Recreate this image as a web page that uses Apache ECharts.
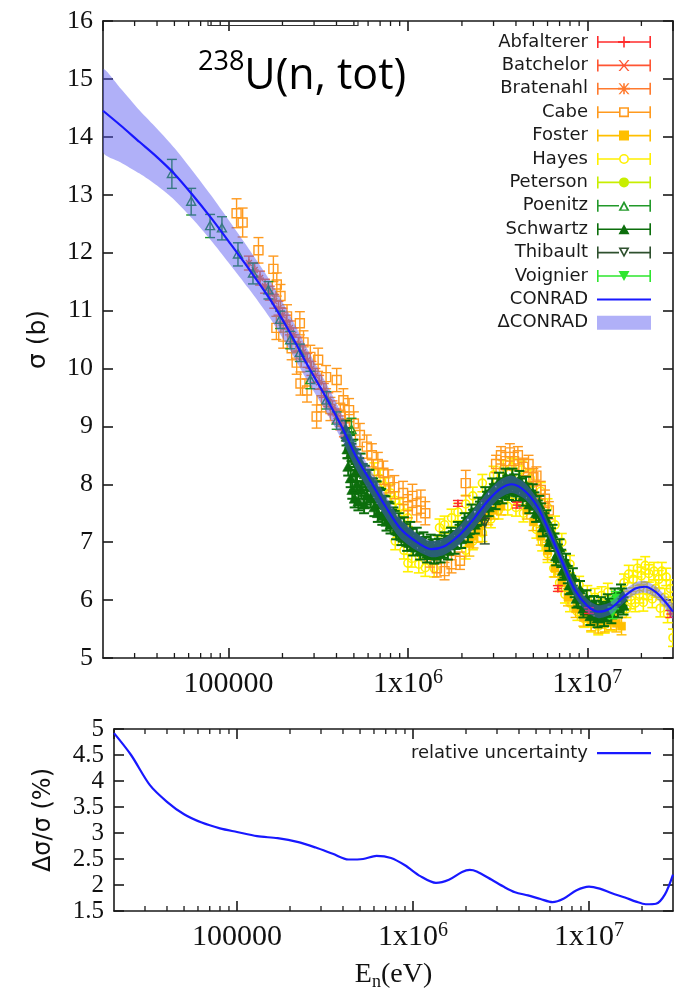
<!DOCTYPE html>
<html><head><meta charset="utf-8">
<script src="https://cdn.jsdelivr.net/npm/echarts@6/dist/echarts.min.js"></script>
<style>html,body{margin:0;padding:0;background:#fff}#c{width:683px;height:990px}</style>
</head><body><div id="c"></div>
<script>
// ================= DATA =================
const E_GRID = [2.0e4, 2.5e4, 3.2e4, 4.0e4, 5.0e4, 6.3e4, 8.0e4, 1.0e5, 1.3e5, 1.7e5, 2.2e5, 2.8e5, 3.5e5, 4.3e5, 5.2e5, 6.2e5, 7.5e5, 9.0e5, 1.1e6, 1.35e6, 1.6e6, 1.9e6, 2.1e6, 2.3e6, 2.8e6, 3.3e6, 3.8e6, 4.5e6, 5.3e6, 6.2e6, 7.2e6, 8.5e6, 1.0e7, 1.15e7, 1.35e7, 1.6e7, 1.85e7, 2.1e7, 2.4e7, 2.7e7, 3.0e7];
const CONRAD = [14.45, 14.2, 13.91, 13.65, 13.36, 13.0, 12.6, 12.2, 11.72, 11.2, 10.62, 10.02, 9.5, 8.98, 8.45, 8.05, 7.62, 7.25, 7.02, 6.88, 6.93, 7.1, 7.24, 7.38, 7.72, 7.93, 8.0, 7.88, 7.6, 7.15, 6.68, 6.18, 5.9, 5.8, 5.86, 6.06, 6.2, 6.23, 6.14, 5.98, 5.8];
const REL_UNC = [4.92, 4.5, 3.92, 3.6, 3.36, 3.2, 3.09, 3.02, 2.94, 2.9, 2.83, 2.72, 2.6, 2.49, 2.5, 2.56, 2.52, 2.38, 2.17, 2.04, 2.1, 2.25, 2.29, 2.26, 2.1, 1.96, 1.86, 1.8, 1.73, 1.67, 1.74, 1.9, 1.97, 1.93, 1.84, 1.76, 1.68, 1.63, 1.64, 1.82, 2.2];

// experimental points: [E (eV), sigma (b), error (b)]
const ABFALTERER = [[1.9e6,7.67,0.05],[4.05e6,7.64,0.05],[6.85e6,6.2,0.05],[1.02e7,5.82,0.05],[2.9e7,5.76,0.06]];
const BATCHELOR = [[2.05e6,7.2,0.08],[3.1e6,7.85,0.08],[4.2e6,7.95,0.08],[1.41e7,5.92,0.08]];
const BRATENAHL = [[1.3e5,11.82,0.12],[1.4e5,11.7,0.12],[1.5e5,11.56,0.12],[1.6e5,11.42,0.12],[1.7e5,11.3,0.12],[1.8e5,11.16,0.12],[1.9e5,11.04,0.12],[2.0e5,10.92,0.12],[2.1e5,10.8,0.12],[2.2e5,10.7,0.12],[2.3e5,10.58,0.12],[2.45e5,10.42,0.12],[2.6e5,10.28,0.12],[2.75e5,10.14,0.12],[2.9e5,10.0,0.12],[3.05e5,9.88,0.12],[3.2e5,9.76,0.12],[3.4e5,9.62,0.12],[3.6e5,9.46,0.12],[3.8e5,9.32,0.12],[4.0e5,9.18,0.12],[4.2e5,9.06,0.12],[4.4e5,8.94,0.12]];
const CABE = [[1.11e5,12.68,0.25],[1.2e5,12.52,0.25],[1.47e5,12.04,0.22],[1.78e5,11.72,0.22],[1.86e5,11.45,0.2],[1.95e5,11.25,0.2],[1.85e5,10.7,0.2],[2.02e5,10.55,0.2],[2.12e5,10.9,0.2],[2.25e5,10.35,0.2],[2.4e5,10.1,0.2],[2.5e5,10.78,0.2],[2.52e5,9.74,0.2],[2.62e5,10.45,0.2],[2.74e5,9.62,0.2],[2.86e5,10.2,0.2],[3.1e5,9.17,0.2],[3.16e5,10.15,0.2],[3.3e5,9.45,0.2],[3.5e5,9.85,0.2],[3.7e5,9.3,0.2],[4.01e5,9.8,0.2],[4.2e5,9.2,0.2],[4.37e5,9.45,0.2],[4.48e5,9.05,0.2],[4.7e5,9.28,0.2],[5.0e5,9.05,0.2],[5.4e5,8.85,0.2],[5.9e5,8.65,0.2],[6.3e5,8.5,0.2],[6.8e5,8.35,0.2],[7.3e5,8.2,0.2],[7.8e5,8.05,0.2],[8.4e5,7.95,0.2],[9.4e5,7.85,0.2],[1.0e6,7.62,0.2],[1.06e6,7.8,0.2],[1.12e6,7.55,0.2],[1.18e6,7.7,0.2],[1.25e6,7.5,0.2],[1.33e6,6.72,0.15],[1.45e6,6.55,0.15],[1.6e6,6.5,0.15],[1.75e6,6.62,0.15],[1.95e6,6.68,0.15],[2.1e6,8.02,0.22],[3.1e6,8.35,0.15],[3.3e6,8.5,0.15],[3.5e6,8.4,0.15],[3.7e6,8.55,0.15],[3.9e6,8.4,0.15],[4.1e6,8.5,0.15],[4.4e6,8.3,0.15],[4.7e6,8.35,0.15],[5.0e6,8.12,0.15],[5.2e6,8.15,0.15],[5.5e6,7.9,0.15],[5.8e6,7.75,0.15],[6.1e6,7.55,0.15]];
const FOSTER = [[2.2e6,6.98,0.22],[2.32e6,7.1,0.2],[2.45e6,7.2,0.2],[2.6e6,7.32,0.2],[2.8e6,7.45,0.15],[3.0e6,7.55,0.15],[3.3e6,7.62,0.15],[4.6e6,7.55,0.15],[5.0e6,7.35,0.15],[5.5e6,7.1,0.15],[6.0e6,6.85,0.15],[6.6e6,6.55,0.15],[7.2e6,6.3,0.15],[7.8e6,6.05,0.15],[8.6e6,5.85,0.15],[9.5e6,5.7,0.15],[1.05e7,5.62,0.15],[1.15e7,5.58,0.15],[1.25e7,5.6,0.15],[1.35e7,5.64,0.15],[1.45e7,5.6,0.15],[1.55e7,5.55,0.15]];
const HAYES = [[6.5e5,8.22,0.15],[7.0e5,8.1,0.15],[7.5e5,7.96,0.15],[8.0e5,7.85,0.15],[8.5e5,7.72,0.15],[9.0e5,7.6,0.15],[9.5e5,7.5,0.15],[1.0e6,7.42,0.15],
  [8.5e5,7.02,0.15],[9.5e5,6.86,0.15],[1.05e6,6.72,0.15],[1.15e6,6.62,0.15],[1.25e6,6.56,0.15],[1.4e6,6.55,0.15],[1.0e6,6.64,0.15],
  [1.5e6,7.25,0.15],[1.6e6,7.3,0.15],[1.75e6,7.42,0.15],[1.9e6,7.52,0.15],[2.1e6,7.66,0.15],[2.3e6,7.8,0.15],
  [2.1e6,6.86,0.15],[2.3e6,7.02,0.15],[2.6e6,7.16,0.15],[2.9e6,7.4,0.15],[3.2e6,7.55,0.15],[3.6e6,7.62,0.15],[4.0e6,7.6,0.15],[4.4e6,7.5,0.15],
  [2.6e6,8.02,0.15],[3.0e6,8.16,0.15],[3.4e6,8.26,0.15],[3.8e6,8.3,0.15],[4.3e6,8.25,0.15],[4.8e6,8.1,0.15],
  [5.2e6,7.22,0.15],[5.6e6,7.0,0.15],[6.0e6,6.8,0.15],[6.5e6,6.55,0.15],[7.0e6,6.3,0.15],[7.5e6,6.1,0.15],[8.0e6,5.95,0.15],[8.8e6,5.8,0.15],[9.6e6,5.68,0.15],[1.05e7,5.6,0.15],[1.15e7,5.55,0.15],[1.25e7,5.58,0.15],[1.35e7,5.62,0.15],
  [5.5e6,7.88,0.15],[6.0e6,7.6,0.15],[6.6e6,7.3,0.15],[7.2e6,7.0,0.15],[8.0e6,6.62,0.15],[9.0e6,6.26,0.15],[1.0e7,6.1,0.15],[1.1e7,6.05,0.15],[1.2e7,6.08,0.15],[1.3e7,6.14,0.15],
  [1.6e7,6.3,0.15],[1.65e7,5.85,0.15],[1.7e7,6.45,0.15],[1.75e7,6.0,0.15],[1.8e7,6.36,0.15],[1.85e7,5.95,0.15],[1.9e7,6.55,0.15],[1.95e7,6.1,0.15],[2.0e7,6.42,0.15],[2.05e7,5.96,0.15],[2.1e7,6.6,0.15],[2.15e7,6.16,0.15],[2.2e7,6.46,0.15],[2.3e7,6.02,0.15],[2.35e7,6.5,0.15],[2.4e7,6.2,0.15],[2.5e7,6.36,0.15],[2.55e7,5.86,0.15],[2.6e7,6.5,0.15],[2.7e7,6.05,0.15],[2.75e7,6.4,0.15],[2.8e7,5.76,0.15],[2.9e7,6.2,0.15],[2.95e7,5.9,0.15],[3.0e7,5.35,0.15]];
const PETERSON = [[1.42e7,6.0,0.1],[1.45e7,5.92,0.1]];
const POENITZ = [[4.84e4,13.36,0.25],[6.2e4,12.88,0.23],[7.9e4,12.46,0.2],[9.2e4,12.42,0.2],[1.13e5,11.97,0.2],[1.37e5,11.64,0.18],[1.67e5,11.35,0.15],[1.94e5,10.84,0.15],[2.21e5,10.49,0.15],[2.5e5,10.27,0.15],[2.86e5,9.8,0.15],[3.52e5,9.45,0.15],[4.01e5,9.1,0.15],[4.85e5,8.94,0.2]];
const SCHWARTZ = [[4.5e5,8.95,0.15],[4.6e5,8.6,0.15],[4.65e5,8.3,0.15],[4.7e5,8.75,0.15],[4.8e5,8.1,0.15],[4.85e5,8.55,0.15],[4.9e5,7.9,0.15],[5.0e5,8.45,0.15],[5.05e5,7.75,0.15],[5.1e5,8.2,0.15],[5.2e5,8.0,0.15],[5.3e5,7.7,0.15],[5.35e5,8.3,0.15],[5.5e5,7.9,0.15],[5.6e5,8.2,0.15],[5.7e5,7.65,0.15],[5.8e5,8.05,0.15],[5.9e5,7.8,0.15],[6.0e5,8.1,0.15],[6.2e5,7.75,0.15],[6.3e5,7.95,0.15],[6.5e5,7.6,0.15],[6.6e5,7.9,0.15],[6.8e5,7.5,0.15],[7.0e5,7.75,0.15],[7.2e5,7.45,0.15],[7.4e5,7.65,0.15],[7.6e5,7.35,0.15],[7.8e5,7.55,0.15],[8.0e5,7.3,0.15],[8.3e5,7.45,0.15],[8.6e5,7.2,0.15],[8.9e5,7.35,0.15],[9.2e5,7.1,0.15],[9.5e5,7.28,0.15],[9.9e5,7.0,0.15],[1.03e6,7.2,0.15],[1.07e6,6.92,0.15],[1.12e6,7.1,0.15],[1.17e6,6.85,0.15],[1.22e6,7.02,0.15],[1.28e6,6.8,0.15],[1.34e6,6.98,0.15],[1.4e6,6.78,0.15],[1.46e6,6.97,0.15],[1.52e6,6.8,0.15],[1.6e6,7.02,0.15],[1.67e6,6.85,0.15],[1.74e6,7.1,0.15],[1.82e6,6.95,0.15],[1.9e6,7.2,0.15],[1.98e6,7.05,0.15],[2.07e6,7.35,0.15],[2.16e6,7.15,0.15],[2.26e6,7.5,0.15],[2.36e6,7.3,0.15],[2.47e6,7.62,0.15],[2.58e6,7.45,0.15],[2.7e6,7.8,0.15],[2.82e6,7.6,0.15],[2.95e6,7.95,0.15],[3.08e6,7.72,0.15],[3.22e6,8.05,0.15],[3.36e6,7.82,0.15],[3.5e6,8.12,0.15],[3.66e6,7.88,0.15],[3.82e6,8.12,0.15],[4.0e6,7.86,0.15],[4.18e6,8.08,0.15],[4.36e6,7.78,0.15],[4.55e6,7.98,0.15],[4.75e6,7.65,0.15],[4.96e6,7.85,0.15],[5.18e6,7.5,0.15],[5.4e6,7.65,0.15],[5.65e6,7.25,0.15],[5.9e6,7.4,0.15],[6.15e6,7.0,0.15],[6.4e6,7.15,0.15],[6.7e6,6.75,0.15],[7.0e6,6.9,0.15],[7.3e6,6.5,0.15],[7.6e6,6.65,0.15],[7.95e6,6.25,0.15],[8.3e6,6.4,0.15],[8.7e6,6.02,0.15],[9.1e6,6.18,0.15],[9.5e6,5.85,0.15],[9.9e6,6.02,0.15],[1.04e7,5.72,0.15],[1.09e7,5.92,0.15],[1.14e7,5.68,0.15],[1.19e7,5.9,0.15],[1.24e7,5.7,0.15],[1.3e7,5.95,0.15],[1.36e7,5.75,0.15],[1.42e7,6.05,0.15],[1.48e7,5.85,0.15],[1.54e7,6.12,0.15],[1.59e7,5.9,0.15],
  [4.55e5,8.82,0.15],[4.75e5,8.7,0.15],[4.95e5,8.62,0.15],[5.15e5,8.45,0.15],[5.45e5,8.38,0.15],[5.75e5,8.17,0.15],[6.1e5,8.1,0.15],[6.4e5,7.95,0.15],[6.7e5,7.9,0.15],[6.9e5,7.79,0.15],[7.1e5,7.77,0.15],[7.3e5,7.65,0.15],[7.5e5,7.64,0.15],[7.7e5,7.53,0.15],[7.9e5,7.52,0.15],[8.15e5,7.41,0.15],[8.45e5,7.39,0.15],[8.75e5,7.27,0.15],[9.05e5,7.26,0.15],[9.35e5,7.16,0.15],[9.7e5,7.16,0.15],[1.01e6,7.07,0.15],[1.05e6,7.08,0.15],[1.1e6,6.99,0.15],[1.15e6,7.0,0.15],[1.2e6,6.92,0.15],[1.25e6,6.94,0.15],[1.31e6,6.86,0.15],[1.37e6,6.9,0.15],[1.43e6,6.85,0.15],[1.49e6,6.91,0.15],[1.56e6,6.88,0.15],[1.63e6,6.96,0.15],[1.7e6,6.94,0.15],[1.78e6,7.04,0.15],[1.86e6,7.04,0.15],[1.94e6,7.15,0.15],[2.02e6,7.16,0.15],[2.11e6,7.27,0.15],[2.21e6,7.29,0.15],[2.31e6,7.41,0.15],[2.42e6,7.43,0.15],[2.52e6,7.55,0.15],[2.64e6,7.59,0.15],[2.76e6,7.72,0.15],[2.88e6,7.74,0.15],[3.02e6,7.85,0.15],[3.15e6,7.86,0.15],[3.29e6,7.95,0.15],[3.43e6,7.93,0.15],[3.58e6,8.0,0.15],[3.74e6,7.97,0.15],[3.91e6,8.02,0.15],[4.09e6,7.94,0.15],[4.27e6,7.95,0.15],[4.45e6,7.86,0.15],[4.65e6,7.86,0.15],[4.86e6,7.74,0.15],[5.07e6,7.71,0.15],[5.29e6,7.57,0.15],[5.52e6,7.52,0.15],[5.77e6,7.35,0.15],[6.02e6,7.27,0.15],[6.27e6,7.09,0.15],[6.55e6,7.0,0.15],[6.85e6,6.81,0.15],[7.15e6,6.72,0.15],[7.45e6,6.54,0.15],[7.78e6,6.44,0.15],[8.12e6,6.27,0.15],[8.5e6,6.2,0.15],[8.9e6,6.04,0.15],[9.3e6,6.01,0.15],[9.7e6,5.9,0.15],[1.01e7,5.91,0.15],[1.065e7,5.82,0.15],[1.115e7,5.84,0.15],[1.165e7,5.77,0.15],[1.215e7,5.82,0.15],[1.27e7,5.79,0.15],[1.33e7,5.87,0.15],[1.39e7,5.86,0.15],[1.45e7,5.96,0.15],[1.51e7,5.97,0.15],[1.565e7,6.05,0.15]];
const THIBAULT = [[2.68e6,7.35,0.38]];
const VOIGNIER = [[1.38e7,5.78,0.1],[1.41e7,5.95,0.1],[1.44e7,6.05,0.1]];

const LEGEND_NAMES = ['Abfalterer','Batchelor','Bratenahl','Cabe','Foster','Hayes','Peterson','Poenitz','Schwartz','Thibault','Voignier','CONRAD','\u0394CONRAD'];
const X_MINOR_TICKS = [3e4,4e4,5e4,6e4,7e4,8e4,9e4,2e5,3e5,4e5,5e5,6e5,7e5,8e5,9e5,2e6,3e6,4e6,5e6,6e6,7e6,8e6,9e6,2e7];
const X_RANGE = [2e4, 3e7];
const Y_TOP = [5, 16];
const Y_BOT = [1.5, 5];

// ================= STYLE =================
const DATASETS = {Abfalterer:ABFALTERER, Batchelor:BATCHELOR, Bratenahl:BRATENAHL, Cabe:CABE, Foster:FOSTER, Hayes:HAYES, Peterson:PETERSON, Poenitz:POENITZ, Schwartz:SCHWARTZ, Thibault:THIBAULT, Voignier:VOIGNIER};
const STYLE = {
  Abfalterer:{color:'#ff2d2d', shape:'plus', r:4, lw:1.4},
  Batchelor:{color:'#ff5533', shape:'cross', r:4, lw:1.4},
  Bratenahl:{color:'#ff7a2e', shape:'star', r:4, lw:1.4},
  Cabe:{color:'#ff9a1e', shape:'osquare', r:4.5, lw:1.4},
  Foster:{color:'#ffbf00', shape:'square', r:4, lw:1.4},
  Hayes:{color:'#fff000', shape:'ocircle', r:4, lw:1.6},
  Peterson:{color:'#c8ee00', shape:'circle', r:4, lw:1.4},
  Poenitz:{color:'#22992a', shape:'otri', r:4.5, lw:1.4},
  Schwartz:{color:'#0c6e0c', shape:'tri', r:5.5, lw:2},
  Thibault:{color:'#2e502e', shape:'otridown', r:4.5, lw:1.4},
  Voignier:{color:'#2ee62e', shape:'tridown', r:4, lw:1.4}
};
const DRAW_ORDER = ['Hayes','Foster','Cabe','Bratenahl','Batchelor','Peterson','Schwartz','Poenitz','Voignier','Thibault','Abfalterer'];
const BLUE = '#1818ff';
const BAND = 'rgba(80,80,240,0.45)';
const AX = '#1a1a1a';
const SERIF = "'Liberation Serif','Times New Roman',serif";
const SANS = "'DejaVu Sans',sans-serif";

function markerEl(shape, x, y, r, col, lw) {
  const S = {stroke: col, lineWidth: lw, fill: 'none'};
  const F = {fill: col, stroke: col, lineWidth: 0.6};
  const L = (x1,y1,x2,y2) => ({type:'line', shape:{x1,y1,x2,y2}, style:S});
  switch (shape) {
    case 'plus': return {type:'group', children:[L(x-r,y,x+r,y), L(x,y-r,x,y+r)]};
    case 'cross': return {type:'group', children:[L(x-r,y-r,x+r,y+r), L(x-r,y+r,x+r,y-r)]};
    case 'star': return {type:'group', children:[L(x-r,y,x+r,y), L(x,y-r,x,y+r), L(x-r*0.75,y-r*0.75,x+r*0.75,y+r*0.75), L(x-r*0.75,y+r*0.75,x+r*0.75,y-r*0.75)]};
    case 'osquare': return {type:'rect', shape:{x:x-r,y:y-r,width:2*r,height:2*r}, style:S};
    case 'square': return {type:'rect', shape:{x:x-r,y:y-r,width:2*r,height:2*r}, style:F};
    case 'ocircle': return {type:'circle', shape:{cx:x,cy:y,r:r}, style:S};
    case 'circle': return {type:'circle', shape:{cx:x,cy:y,r:r}, style:F};
    case 'otri': return {type:'polygon', shape:{points:[[x,y-r],[x+r,y+0.8*r],[x-r,y+0.8*r]]}, style:S};
    case 'tri': return {type:'polygon', shape:{points:[[x,y-r],[x+r,y+0.8*r],[x-r,y+0.8*r]]}, style:F};
    case 'otridown': return {type:'polygon', shape:{points:[[x,y+r],[x+r,y-0.8*r],[x-r,y-0.8*r]]}, style:S};
    default: return {type:'polygon', shape:{points:[[x,y+r],[x+r,y-0.8*r],[x-r,y-0.8*r]]}, style:F};
  }
}
function errRender(shape, r, lw) {
  return function (params, api) {
    const E = api.value(0), s = api.value(1), e = api.value(2);
    const c = api.coord([E, s]);
    const lo = api.coord([E, s - e]);
    const hi = api.coord([E, s + e]);
    const col = api.visual('color');
    const st = {stroke: col, lineWidth: lw, fill: 'none'};
    const cw = 5;
    return {type:'group', children:[
      {type:'line', shape:{x1:c[0], y1:lo[1], x2:c[0], y2:hi[1]}, style:st},
      {type:'line', shape:{x1:c[0]-cw, y1:lo[1], x2:c[0]+cw, y2:lo[1]}, style:st},
      {type:'line', shape:{x1:c[0]-cw, y1:hi[1], x2:c[0]+cw, y2:hi[1]}, style:st},
      markerEl(shape, c[0], c[1], r, col, lw)
    ]};
  };
}
function legendIcon(shape) {
  const R = (x0,y0,x1,y1) => `M${x0},${y0} L${x1},${y0} L${x1},${y1} L${x0},${y1} Z`;
  const Rr = (x0,y0,x1,y1) => `M${x0},${y0} L${x0},${y1} L${x1},${y1} L${x1},${y0} Z`;
  let p = 'M0,0 L0.02,0 L0,0.02 Z M54,14 L53.98,14 L54,13.98 Z';
  if (shape === 'line') return 'path://' + p + ' ' + R(0,6,54,8.2);
  if (shape === 'box') return 'path://' + R(0,0,54,14);
  p += ' ' + R(0,1,1.6,13) + ' ' + R(52.4,1,54,13);
  const hollow = shape.charAt(0) === 'o';
  p += hollow ? (' ' + R(0,6.2,22,7.8) + ' ' + R(32,6.2,54,7.8)) : (' ' + R(0,6.2,54,7.8));
  const PLUS = ' ' + R(26.2,1.5,27.8,12.5) + ' ' + R(21,6,33,8);
  const CROSS = ' M21.5,1.5 L23.2,1.5 L32.5,12.5 L30.8,12.5 Z M30.8,1.5 L32.5,1.5 L23.2,12.5 L21.5,12.5 Z';
  switch (shape) {
    case 'plus': p += PLUS; break;
    case 'cross': p += CROSS; break;
    case 'star': p += PLUS + CROSS; break;
    case 'osquare': p += ' ' + R(22,2,32,12) + ' ' + Rr(23.6,3.6,30.4,10.4); break;
    case 'square': p += ' ' + R(22,2,32,12); break;
    case 'ocircle': p += ' M22,7 A5,5 0 1,1 32,7 A5,5 0 1,1 22,7 Z M23.6,7 A3.4,3.4 0 1,0 30.4,7 A3.4,3.4 0 1,0 23.6,7 Z'; break;
    case 'circle': p += ' M22,7 A5,5 0 1,1 32,7 A5,5 0 1,1 22,7 Z'; break;
    case 'otri': p += ' M21.5,12 L27,2 L32.5,12 Z M24.3,10.6 L29.7,10.6 L27,5.4 Z'; break;
    case 'tri': p += ' M21.5,12 L27,2 L32.5,12 Z'; break;
    case 'otridown': p += ' M21.5,2 L32.5,2 L27,12 Z M24.3,3.4 L27,8.6 L29.7,3.4 Z'; break;
    case 'tridown': p += ' M21.5,2 L32.5,2 L27,12 Z'; break;
  }
  return 'path://' + p;
}
function fmtE(v) {
  const k = Math.round(Math.log10(v));
  if (k <= 5) return String(Math.round(v));
  return '1x10{sup|' + k + '}';
}
function minorTickRender(yr) {
  return function (params, api) {
    const E = api.value(0);
    const b = api.coord([E, yr[0]]);
    const t = api.coord([E, yr[1]]);
    const st = {stroke: AX, lineWidth: 1.3};
    return {type:'group', children:[
      {type:'line', shape:{x1:b[0], y1:b[1], x2:b[0], y2:b[1]-5}, style:st},
      {type:'line', shape:{x1:t[0], y1:t[1], x2:t[0], y2:t[1]+5}, style:st}
    ]};
  };
}

// ================= AXES =================
const lineSt = {color: AX, width: 1.6};
function xAx(grid, pos, labels) {
  return {
    type:'log', logBase:10, gridIndex:grid, position:pos, min:X_RANGE[0], max:X_RANGE[1],
    axisLine:{show:true, onZero:false, lineStyle:lineSt},
    axisTick:{show:true, inside:true, length:10, lineStyle:lineSt},
    minorTick:{show:false}, splitLine:{show:false}, minorSplitLine:{show:false},
    axisLabel: labels ? {show:true, margin:10, fontFamily:SERIF, fontSize:30, color:'#111', lineHeight:32,
      showMinLabel:false, showMaxLabel:false, formatter: fmtE,
      rich:{sup:{fontFamily:SERIF, fontSize:20, color:'#111', verticalAlign:'top', lineHeight:17}}} : {show:false}
  };
}
function yAx(grid, pos, range, interval, labels, fs) {
  return {
    type:'value', gridIndex:grid, position:pos, min:range[0], max:range[1], interval:interval,
    axisLine:{show:true, onZero:false, lineStyle:lineSt},
    axisTick:{show:true, inside:true, length:10, lineStyle:lineSt},
    splitLine:{show:false},
    axisLabel: labels ? {show:true, margin:10, fontFamily:SERIF, fontSize:fs, color:'#111'} : {show:false}
  };
}
const xAxes = [xAx(0,'bottom',true), xAx(0,'top',false), xAx(1,'bottom',true), xAx(1,'top',false)];
xAxes[2].name = '{a|E}{s|n}{a|(eV)}';
xAxes[2].nameLocation = 'middle';
xAxes[2].nameGap = 48;
xAxes[2].nameTextStyle = {fontFamily:SERIF, fontSize:28, color:'#111',
  rich:{a:{fontFamily:SERIF, fontSize:28, color:'#111', lineHeight:32}, s:{fontFamily:SERIF, fontSize:18, color:'#111', verticalAlign:'bottom', lineHeight:16}}};
const yAxes = [yAx(0,'left',Y_TOP,1,true,26), yAx(0,'right',Y_TOP,1,false), yAx(1,'left',Y_BOT,0.5,true,25), yAx(1,'right',Y_BOT,0.5,false)];
yAxes[0].name = '\u03c3 (b)'; yAxes[0].nameLocation = 'middle'; yAxes[0].nameGap = 52; yAxes[0].nameRotate = 90;
yAxes[0].nameTextStyle = {fontFamily:SANS, fontSize:25, color:'#111'};
yAxes[2].name = '\u0394\u03c3/\u03c3 (%)'; yAxes[2].nameLocation = 'middle'; yAxes[2].nameGap = 58; yAxes[2].nameRotate = 90;
yAxes[2].nameTextStyle = {fontFamily:SANS, fontSize:24, color:'#111'};

// ================= SERIES =================
const series = [];
DRAW_ORDER.forEach(name => {
  const st = STYLE[name];
  series.push({
    type:'custom', name:name, xAxisIndex:0, yAxisIndex:0, z:2, clip:true,
    itemStyle:{color:st.color},
    encode:{x:0, y:1},
    renderItem: errRender(st.shape, st.r, st.lw),
    data: DATASETS[name]
  });
});
// uncertainty band: [E, lower, upper] built from CONRAD and its relative uncertainty
const BAND_ROWS = E_GRID.map((e,i) => [e, CONRAD[i] * (1 - REL_UNC[i]/100), CONRAD[i] * (1 + REL_UNC[i]/100)]);
series.push({type:'custom', name:'\u0394CONRAD', xAxisIndex:0, yAxisIndex:0, z:3, silent:true, clip:true,
  itemStyle:{color:BAND}, encode:{x:0, y:[1,2]}, data:BAND_ROWS,
  renderItem: function (params, api) {
    if (params.dataIndex !== 0) return null;
    const up = [], dn = [];
    for (let i = 0; i < BAND_ROWS.length; i++) {
      up.push(api.coord([BAND_ROWS[i][0], BAND_ROWS[i][2]]));
      dn.push(api.coord([BAND_ROWS[i][0], BAND_ROWS[i][1]]));
    }
    return {type:'polygon', shape:{points: up.concat(dn.reverse()), smooth:0.25}, style:{fill:BAND, stroke:null}};
  }});
series.push({type:'line', name:'CONRAD', xAxisIndex:0, yAxisIndex:0, data:E_GRID.map((e,i)=>[e, CONRAD[i]]), smooth:0.3,
  symbol:'none', lineStyle:{width:2.2, color:BLUE}, itemStyle:{color:BLUE}, z:4, silent:true});
series.push({type:'line', name:'relative uncertainty', xAxisIndex:2, yAxisIndex:2, data:E_GRID.map((e,i)=>[e, REL_UNC[i]]), smooth:0.3,
  symbol:'none', lineStyle:{width:2.2, color:BLUE}, itemStyle:{color:BLUE}, z:4, silent:true});
series.push({type:'custom', name:'_minor0', xAxisIndex:0, yAxisIndex:0, z:5, silent:true, encode:{x:0,y:1},
  renderItem:minorTickRender(Y_TOP), data:X_MINOR_TICKS.map(e=>[e, Y_TOP[0]])});
series.push({type:'custom', name:'_minor1', xAxisIndex:2, yAxisIndex:2, z:5, silent:true, encode:{x:0,y:1},
  renderItem:minorTickRender(Y_BOT), data:X_MINOR_TICKS.map(e=>[e, Y_BOT[0]])});

const ICON_SHAPE = Object.assign({}, ...Object.keys(STYLE).map(k => ({[k]: STYLE[k].shape})), {'CONRAD':'line', '\u0394CONRAD':'box'});

const option = {
  animation:false,
  backgroundColor:'#fff',
  title:{text:'{sup|238}{m|U(n, tot)}', left:193, top:44,
    textStyle:{fontWeight:'normal', rich:{
      sup:{fontFamily:"'Open Sans',sans-serif", fontWeight:'normal', fontSize:27, color:'#000', verticalAlign:'top', lineHeight:28},
      m:{fontFamily:"'Open Sans',sans-serif", fontWeight:'normal', fontSize:43, color:'#000', lineHeight:56}}}},
  grid:[
    {left:103, right:10, top:21, height:637, outerBoundsMode:'none'},
    {left:114, right:10, top:729, height:182, outerBoundsMode:'none'}
  ],
  xAxis:xAxes,
  yAxis:yAxes,
  legend:[
    {orient:'vertical', right:27, top:28, align:'right', itemWidth:54, itemHeight:14, itemGap:5.4, selectedMode:false,
      textStyle:{fontFamily:SANS, fontSize:18, color:'#1a1a1a', padding:[0,4,0,0]},
      data:LEGEND_NAMES.map(n => ({name:n, icon:legendIcon(ICON_SHAPE[n]), itemStyle:{borderWidth:0}}))},
    {orient:'vertical', right:27, top:739, align:'right', itemWidth:54, itemHeight:14, selectedMode:false,
      textStyle:{fontFamily:SANS, fontSize:18, color:'#1a1a1a', padding:[0,4,0,0]},
      data:[{name:'relative uncertainty', icon:legendIcon('line'), itemStyle:{borderWidth:0}}]}
  ],
  graphic:[{type:'rect', shape:{x:208, y:21, width:150, height:4.5}, style:{fill:'none', stroke:'#333', lineWidth:1.2}, z:10}],
  series:series
};
const chart = echarts.init(document.getElementById('c'), null, {renderer:'canvas', width:683, height:990});
chart.setOption(option);
</script>
</body></html>
